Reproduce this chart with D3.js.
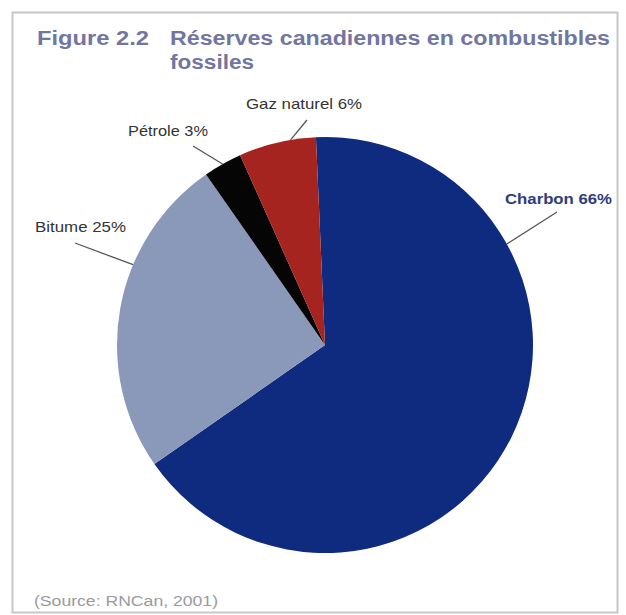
<!DOCTYPE html>
<html><head><meta charset="utf-8">
<script src="https://cdn.jsdelivr.net/npm/d3@7/dist/d3.min.js"></script>
<style>html,body{margin:0;padding:0;background:#fff;}svg{display:block;}</style>
</head><body>
<svg id="c" width="626" height="615"></svg>
<script>
const categories = ["Charbon", "Bitume", "Pétrole", "Gaz naturel"];
const values = [66, 25, 3, 6];
const labels = ["Charbon 66%", "Bitume 25%", "Pétrole 3%", "Gaz naturel 6%"];
const colors = ["#0f2b7f", "#8a99b9", "#050505", "#a52420"];

const svg = d3.select("#c");
svg.append("rect").attr("x", 12.5).attr("y", 12.5).attr("width", 605).attr("height", 600)
  .attr("fill", "#fff").attr("stroke", "#c8c8cc").attr("stroke-width", 2);

const title = svg.append("g").attr("fill", "#7176a0").attr("font-family", "Liberation Sans, Arial, sans-serif")
  .attr("font-weight", "bold").attr("font-size", 20);
title.append("text").attr("x", 37).attr("y", 45).attr("textLength", 112).attr("lengthAdjust", "spacingAndGlyphs").text("Figure 2.2");
title.append("text").attr("x", 170).attr("y", 45).attr("textLength", 440).attr("lengthAdjust", "spacingAndGlyphs").text("Réserves canadiennes en combustibles");
title.append("text").attr("x", 170).attr("y", 69).attr("textLength", 84).attr("lengthAdjust", "spacingAndGlyphs").text("fossiles");

const cx = 325, cy = 345, r = 208;
const start = -2.5 * Math.PI / 180;
const pie = d3.pie().sort(null).value(d => d).startAngle(start).endAngle(start + 2 * Math.PI);
const arc = d3.arc().innerRadius(0).outerRadius(r);
const g = svg.append("g").attr("transform", `translate(${cx},${cy})`);
const arcs = pie(values);
g.selectAll("path").data(arcs).join("path").attr("d", arc).attr("fill", (d, i) => colors[i]);

// label placements: text position, leader outer point, fraction along slice arc for leader inner end
const labelPos = [
  {tx: 505, ty: 204, w: 107, lx: 557, ly: 212, f: 0.267, bold: true, color: "#2e3d7a"},
  {tx: 35, ty: 232, w: 91, lx: 75, ly: 243, f: 0.64, bold: false, color: "#333"},
  {tx: 128, ty: 136, w: 80, lx: 193, ly: 146, f: 0.5, bold: false, color: "#333"},
  {tx: 246, ty: 109, w: 116, lx: 307, ly: 120, f: 0.675, bold: false, color: "#333"}
];
const lab = svg.append("g").attr("font-family", "Liberation Sans, Arial, sans-serif").attr("font-size", 15);
arcs.forEach((a, i) => {
  const p = labelPos[i];
  const ang = a.startAngle + p.f * (a.endAngle - a.startAngle);
  const ex = cx + r * Math.sin(ang), ey = cy - r * Math.cos(ang);
  lab.append("line").attr("x1", p.lx).attr("y1", p.ly).attr("x2", ex).attr("y2", ey)
    .attr("stroke", "#555").attr("stroke-width", 1.3);
  lab.append("text").attr("x", p.tx).attr("y", p.ty).attr("fill", p.color)
    .attr("font-weight", p.bold ? "bold" : "normal")
    .attr("textLength", p.w).attr("lengthAdjust", "spacingAndGlyphs").text(labels[i]);
});

svg.append("text").attr("x", 34).attr("y", 606).attr("fill", "#9a9aa0")
  .attr("font-family", "Liberation Sans, Arial, sans-serif").attr("font-size", 14)
  .attr("textLength", 184).attr("lengthAdjust", "spacingAndGlyphs")
  .text("(Source:  RNCan, 2001)");
</script>
</body></html>
